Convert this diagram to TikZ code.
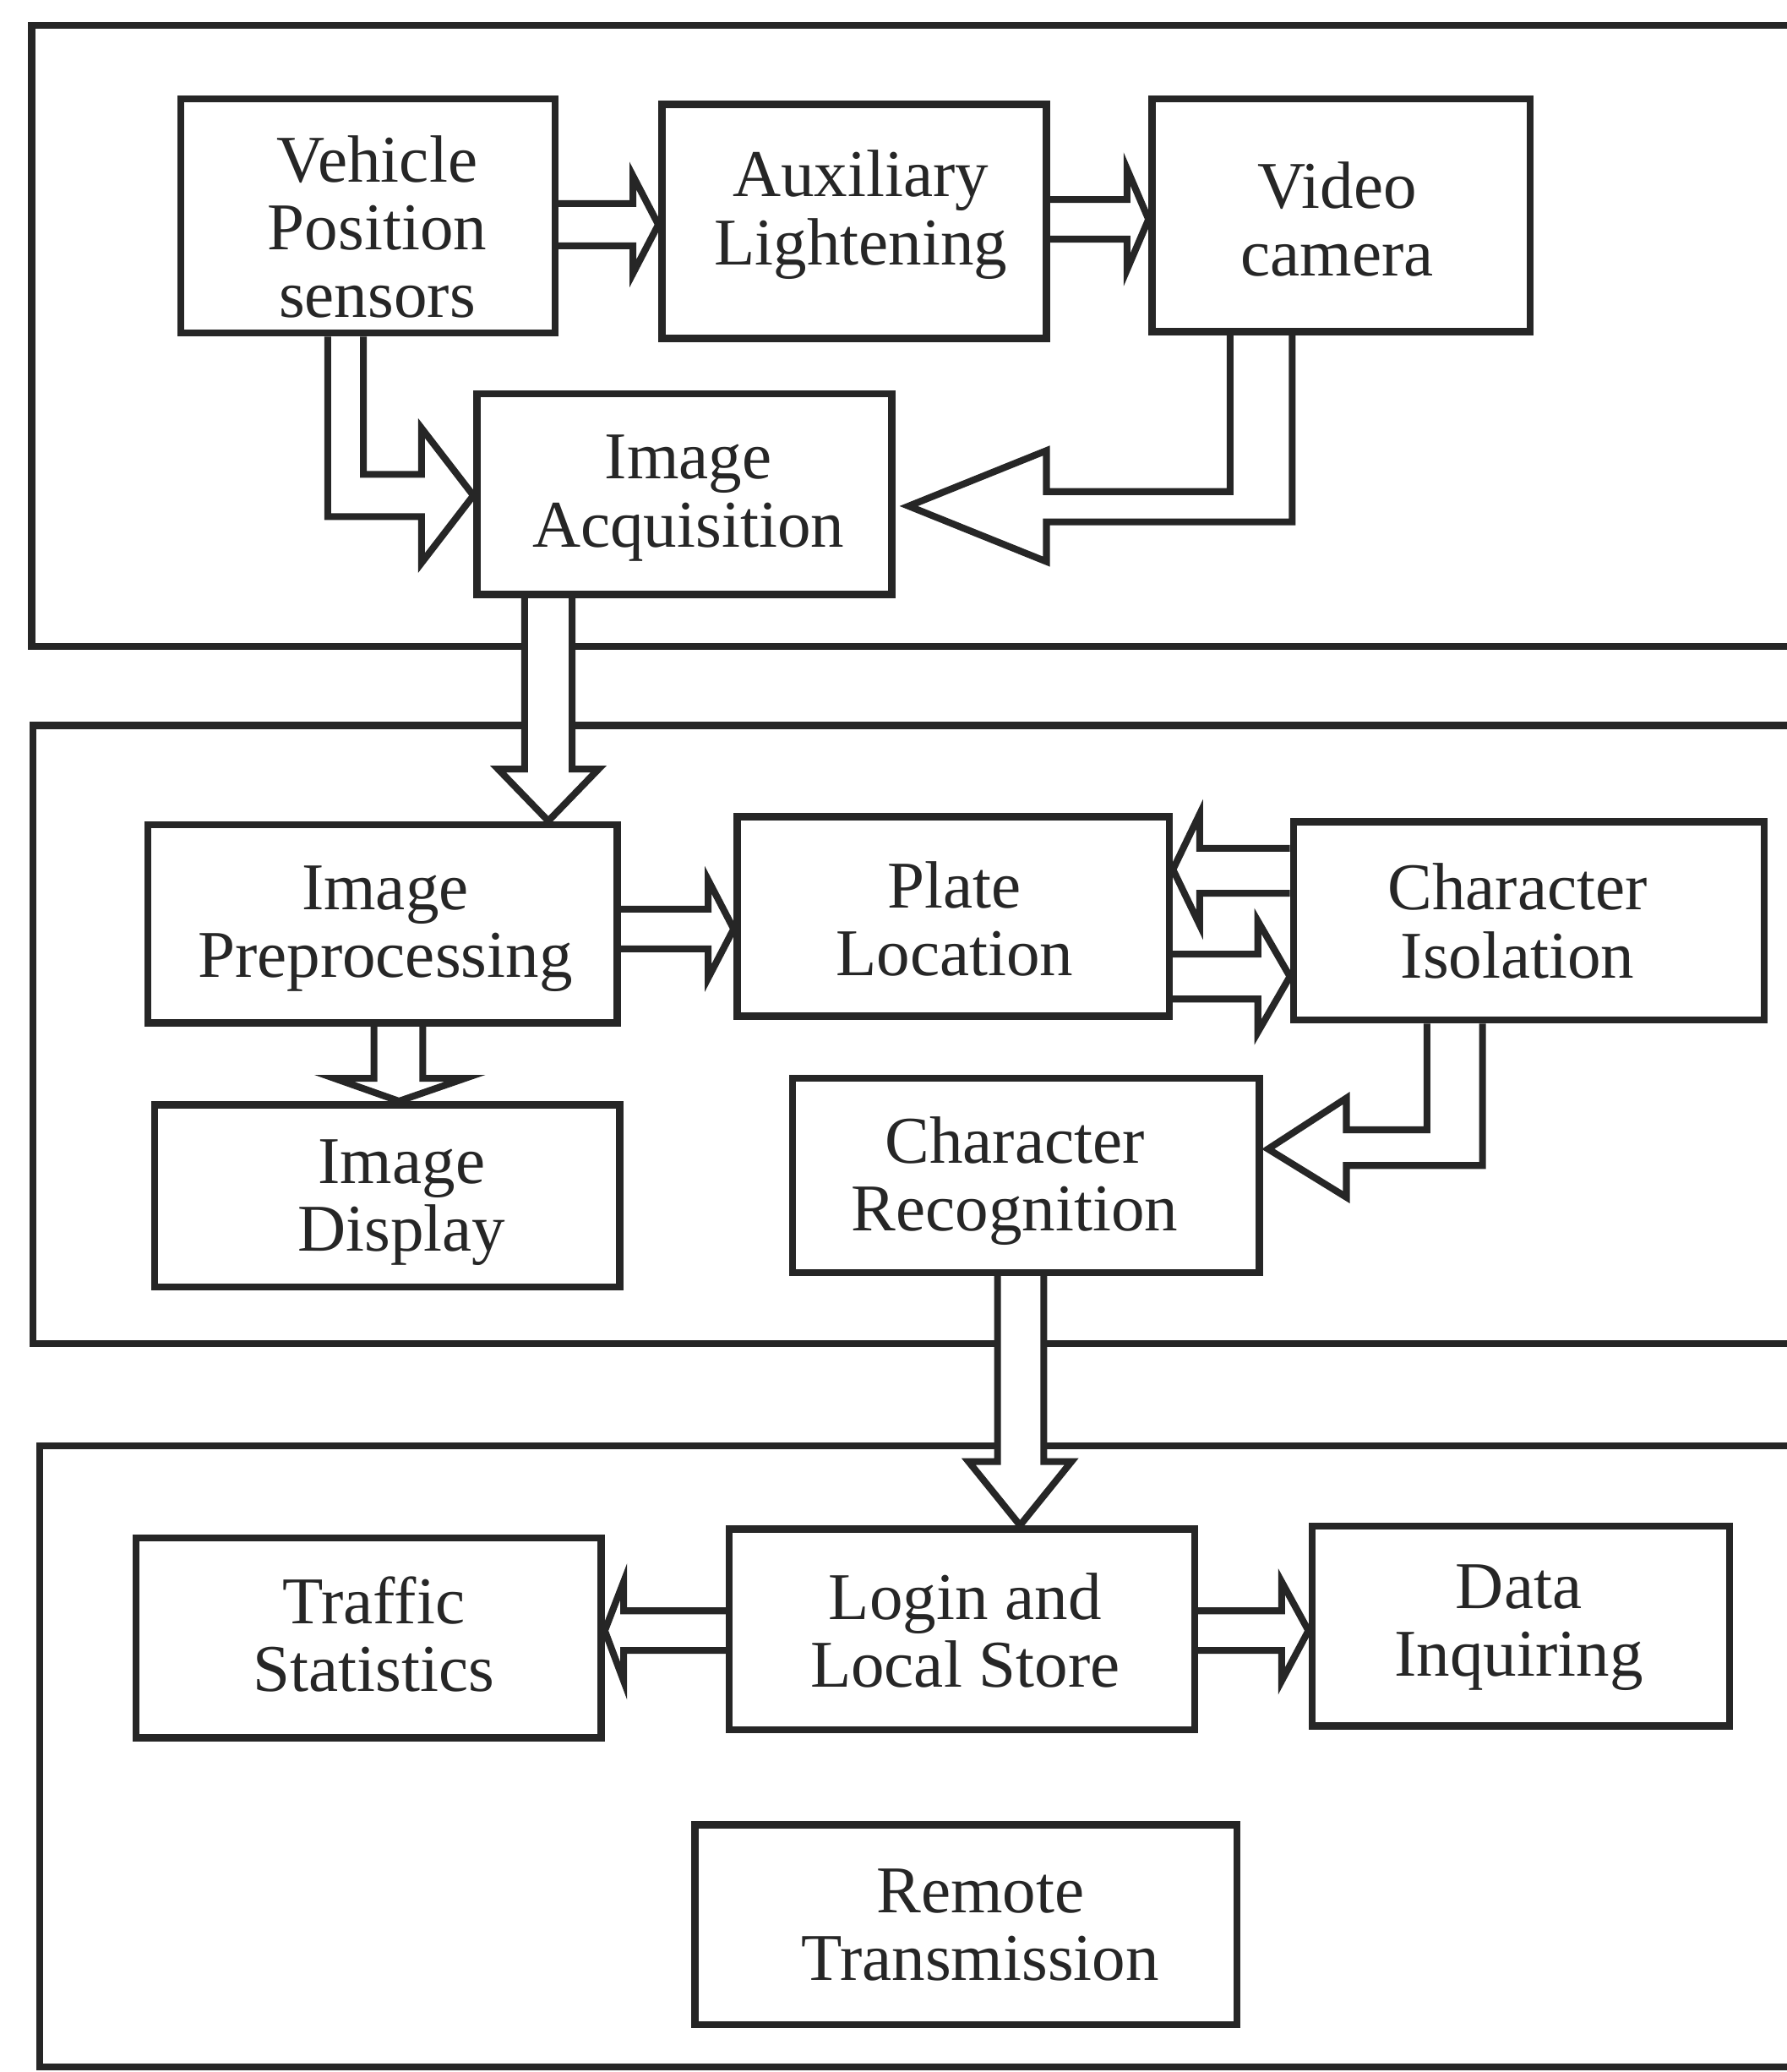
\documentclass[tikz,border=0pt]{standalone}
\usepackage{fontspec}
\setmainfont{Liberation Serif}
\usetikzlibrary{calc}
\pgfdeclarelayer{bg}
\pgfsetlayers{bg,main}
\newcommand{\pxl}{0.15643mm}

\begin{document}
\begin{tikzpicture}[x=0.015643cm, y=-0.015643cm,
	box/.style={draw=black!85, line width=2.4pt, inner sep=0pt},
	txt/.style={inner sep=0pt, align=center, text=black!85,
		font=\fontsize{22.5}{22.8}\selectfont},
	blk/.style={draw=black!85, line width=2.3pt, fill=white},
	frame/.style={draw=black!85, line width=2.3pt}
]
\useasboundingbox (0,0) rectangle (1352,1568);
\clip (0,0) rectangle (1352,1568);

\node[box, minimum width=283*\pxl, minimum height=177*\pxl] (vps) at (278.5,163.5) {};
\node[box, minimum width=291*\pxl, minimum height=177*\pxl] (aux) at (646.5,167.5) {};
\node[box, minimum width=286*\pxl, minimum height=176*\pxl] (vid) at (1015,163) {};
\node[box, minimum width=314*\pxl, minimum height=152*\pxl] (acq) at (518,374) {};

\node[box, minimum width=355*\pxl, minimum height=150*\pxl] (pre) at (289.5,699) {};
\node[box, minimum width=327*\pxl, minimum height=151*\pxl] (plate) at (721.5,693.5) {};
\node[box, minimum width=356*\pxl, minimum height=150*\pxl] (iso) at (1157,697) {};
\node[box, minimum width=352*\pxl, minimum height=138*\pxl] (disp) at (293,905) {};
\node[box, minimum width=353*\pxl, minimum height=147*\pxl] (rec) at (776.5,889.5) {};

\node[box, minimum width=352*\pxl, minimum height=151*\pxl] (traffic) at (279,1239.5) {};
\node[box, minimum width=352*\pxl, minimum height=152*\pxl] (login) at (728,1233) {};
\node[box, minimum width=316*\pxl, minimum height=151*\pxl] (data) at (1151,1230.5) {};
\node[box, minimum width=410*\pxl, minimum height=151*\pxl] (remote) at (731,1456.5) {};

% labels, a little off the box centres
\node[txt] (vpsText) at ($(vps)+(7,8)$) {Vehicle\\Position\\sensors};
\node[txt] (auxText) at ($(aux)+(5,-5)$) {Auxiliary\\Lightening};
\node[txt] (vidText) at ($(vid)+(-3,3)$) {Video\\camera};
\node[txt] (acqText) at ($(acq)+(3,3)$) {Image\\Acquisition};
\node[txt] (preText) at ($(pre)+(2,4)$) {Image\\Preprocessing};
\node[txt] (plateText) at ($(plate)+(1,2)$) {Plate\\Location};
\node[txt] (isoText) at ($(iso)+(-8.5,0)$) {Character\\Isolation};
\node[txt] (dispText) at ($(disp)+(11,5)$) {Image\\Display};
\node[txt] (recText) at ($(rec)+(-8.5,4)$) {Character\\Recognition};
\node[txt] (trafficText) at ($(traffic)+(4,-3)$) {Traffic\\Statistics};
\node[txt] (loginText) at ($(login)+(2.5,1)$) {Login and\\Local Store};
\node[txt] (dataText) at ($(data)+(-1.5,1)$) {Data\\Inquiring};
\node[txt] (remoteText) at ($(remote)+(11,0)$) {Remote\\Transmission};

\begin{pgfonlayer}{bg}
% frames, open to the right
\foreach \ya/\yb/\xa in {19/489/24, 549/1017/25, 1094/1564/30}{
	\draw[frame] (1400,\ya) -- (\xa,\ya) -- (\xa,\yb) -- (1400,\yb);
}

% hollow arrows
\draw[blk] (vps.east |- 0,154) -- (479,154) -- (479,133) -- (aux.west |- 0,170)
-- (479,207) -- (479,186) -- (vps.east |- 0,186);
\draw[blk] (aux.east |- 0,151) -- (853,151) -- (853,128) -- (vid.west |- 0,166)
-- (853,204) -- (853,181) -- (aux.east |- 0,181);
\draw[blk] (248,0 |- vps.south) -- (248,391) -- (319,391) -- (319,426)
-- (acq.west |- 0,375) -- (319,324) -- (319,359) -- (275,359) -- (275,0 |- vps.south);
\draw[blk] (931,0 |- vid.south) -- (931,372) -- (792,372) -- (792,341)
-- ($(acq.east)+(10,9)$) -- (792,425) -- (792,395) -- (978,395) -- (978,0 |- vid.south);
\draw[blk] (397,0 |- acq.south) -- (397,582) -- (377,582) -- (415,0 |- pre.north)
-- (453,582) -- (433,582) -- (433,0 |- acq.south);

\draw[blk] (pre.east |- 0,688) -- (536,688) -- (536,666) -- (plate.west |- 0,703)
-- (536,740) -- (536,718) -- (pre.east |- 0,718);
\draw[blk] (283,0 |- pre.south) -- (283,816) -- (253,816) -- (302,0 |- disp.north)
-- (352,816) -- (320,816) -- (320,0 |- pre.south);
\draw[blk] (iso.west |- 0,642) -- (908,642) -- (908,616) -- (plate.east |- 0,658)
-- (908,700) -- (908,676) -- (iso.west |- 0,676);
\draw[blk] (plate.east |- 0,722) -- (952,722) -- (952,697) -- (iso.west |- 0,739)
-- (952,781) -- (952,756) -- (plate.east |- 0,756);
\draw[blk] (1080,0 |- iso.south) -- (1080,855) -- (1019,855) -- (1019,831)
-- ($(rec.east)+(4,-20)$) -- (1019,906) -- (1019,882) -- (1122,882) -- (1122,0 |- iso.south);
\draw[blk] (755,0 |- rec.south) -- (755,1106) -- (733,1106) -- (772,0 |- login.north)
-- (811,1106) -- (790,1106) -- (790,0 |- rec.south);

\draw[blk] (login.west |- 0,1219) -- (472,1219) -- (472,1197) -- (traffic.east |- 0,1234)
-- (472,1272) -- (472,1249) -- (login.west |- 0,1249);
\draw[blk] (login.east |- 0,1219) -- (970,1219) -- (970,1197) -- (data.west |- 0,1234)
-- (970,1272) -- (970,1249) -- (login.east |- 0,1249);
\end{pgfonlayer}
\end{tikzpicture}
\end{document}
